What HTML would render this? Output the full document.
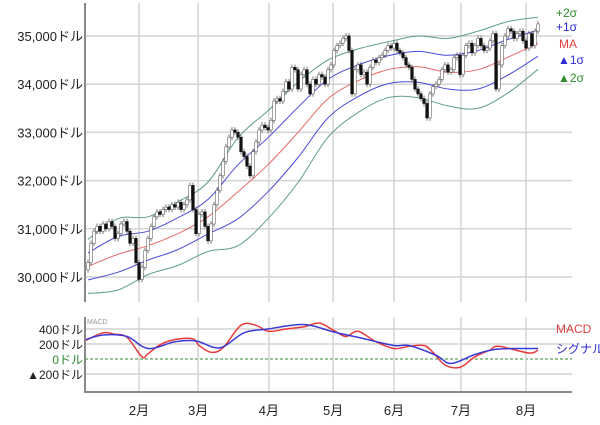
<!DOCTYPE html>
<html><head><meta charset="utf-8">
<style>
html,body{margin:0;padding:0;background:#fff;}
svg{display:block;font-family:"Liberation Sans","Noto Sans CJK JP",sans-serif;}
</style></head>
<body>
<svg id="chart" width="600" height="425" viewBox="0 0 600 425" xmlns="http://www.w3.org/2000/svg">
<g id="grid"></g>
<g id="bands"></g>
<g id="candles"></g>
<g id="macd"></g>
<g id="labels"></g>
<g font-size="12">
<text x="556" y="17" fill="#2e8b2e">+2σ</text>
<text x="556" y="31" fill="#2b2bd0">+1σ</text>
<text x="559" y="48" fill="#e04040">MA</text>
<text x="558" y="64" fill="#2b2bd0">▲1σ</text>
<text x="558" y="82" fill="#2e8b2e">▲2σ</text>
<text x="556" y="333" fill="#e04040">MACD</text>
<text x="556" y="353" fill="#2b2bd0">シグナル</text>
<text x="87" y="324" font-size="7" fill="#999">MACD</text>
</g>
</svg>
<script>
const closes=[30300,30700,30950,31050,30950,31100,31000,31150,31050,30800,
30900,31100,31150,30950,30700,30800,30300,29950,30200,30550,
30800,31050,31250,31350,31300,31400,31450,31400,31500,31450,
31550,31400,31500,31600,31900,31400,30900,31300,31350,31050,
30750,31100,31500,31800,32100,32400,32700,32900,33050,33000,
32900,32600,32500,32300,32100,32600,32800,33050,33150,33100,
33050,33250,33650,33700,33650,33850,34050,33900,34350,34300,
33900,34200,34300,34000,33800,34100,34000,34200,34150,34000,
34300,34400,34700,34800,34850,34950,35000,34700,33800,34300,
34400,34200,34250,34000,34350,34500,34450,34550,34600,34700,
34800,34750,34850,34700,34650,34550,34400,34350,34100,33900,
33800,33700,33600,33300,33800,33950,34000,34100,34300,34400,
34250,34300,34550,34600,34200,34600,34800,34850,34650,34800,
34950,34800,34700,34750,34900,35050,33900,34400,34800,35000,
35150,35100,34950,35050,35100,34900,34750,35050,34800,35100,35250];
const bandDay=[0,10,20,30,40,50,60,70,80,90,100,110,120,130,140,150];
const maVals=[30220,30470,30650,30900,31250,31770,32330,33000,33700,34070,34300,34360,34250,34300,34560,34850];
const sdVals=[280,370,300,330,360,560,560,520,400,330,290,320,350,400,370,270];
const macdDay=[-1,5,9,13,18,20,24,29,35,37,41,45,51,56,60,66,72,77,82,86,90,96,102,107,112,115,119,124,129,134,137,147,150];
const macdVals=[250,350,330,290,30,70,190,260,270,180,90,150,450,450,370,400,430,480,380,300,370,230,140,170,180,90,-80,-110,30,120,170,80,120];
const sigDay=[-1,5,13,20,29,36,44,52,60,72,82,91,102,107,116,121,129,136,144,150];
const sigVals=[260,320,300,140,230,240,150,350,400,460,360,280,180,180,50,-60,60,130,140,140];
const yTicks=[30000,31000,32000,33000,34000,35000];
const macdTicks=[400,200,0,-200];
const months=["2月","3月","4月","5月","6月","7月","8月"];
const monthDay=[17,36.7,60.3,81.7,102,124.3,146];

const NS="http://www.w3.org/2000/svg";
const L=85,R=572;
const xDay=d=>88+d*3;
const yP=p=>36+(35000-p)*48.2/1000;
const yM=v=>359-v*15/200;
function mk(tag,attrs,parent){const e=document.createElementNS(NS,tag);for(const k in attrs)e.setAttribute(k,attrs[k]);parent.appendChild(e);return e;}
function smooth(pts){
  let d=`M${pts[0][0]},${pts[0][1]}`;
  for(let i=0;i<pts.length-1;i++){
    const p0=pts[Math.max(i-1,0)],p1=pts[i],p2=pts[i+1],p3=pts[Math.min(i+2,pts.length-1)];
    const c1x=p1[0]+(p2[0]-p0[0])/6,c1y=p1[1]+(p2[1]-p0[1])/6;
    const c2x=p2[0]-(p3[0]-p1[0])/6,c2y=p2[1]-(p3[1]-p1[1])/6;
    d+=` C${c1x.toFixed(1)},${c1y.toFixed(1)} ${c2x.toFixed(1)},${c2y.toFixed(1)} ${p2[0].toFixed(1)},${p2[1].toFixed(1)}`;
  }
  return d;
}
const grid=document.getElementById('grid'),bands=document.getElementById('bands'),cg=document.getElementById('candles'),mg=document.getElementById('macd'),lg=document.getElementById('labels');

yTicks.forEach(t=>{
  const ln=mk('line',{x1:L,x2:R,y1:yP(t),y2:yP(t),stroke:'#d4d4d4','stroke-width':1.5},grid);
  
  
  const tx=mk('text',{x:83,y:yP(t)+5,'text-anchor':'end','font-size':13,fill:'#222'},lg);
  tx.textContent=t.toLocaleString('en-US')+'ドル';
  
  
});
macdTicks.forEach(t=>{
  const ln=mk('line',{x1:L,x2:R,y1:yM(t),y2:yM(t),stroke:t===0?'#2e8b2e':'#d4d4d4','stroke-width':t===0?1:1.5,'stroke-dasharray':t===0?'3,2':'none'},grid);
  
  
  const tx=mk('text',{x:83,y:yM(t)+5,'text-anchor':'end','font-size':12,fill:t===0?'#2e8b2e':'#222'},lg);
  tx.textContent=(t<0?'▲'+(-t):t)+'ドル';
  
  
});
months.forEach((m,i)=>{
  const x=xDay(monthDay[i]);
  const a=mk('line',{x1:x,x2:x,y1:3,y2:302,stroke:'#d4d4d4','stroke-width':1.5},grid);
  
  
  const b=mk('line',{x1:x,x2:x,y1:317,y2:392,stroke:'#d4d4d4','stroke-width':1.5},grid);
  
  
  const tx=mk('text',{x:x,y:415,'text-anchor':'middle','font-size':13,fill:'#222'},lg);
  tx.textContent=m;
  
  
});
const ax1=mk('line',{x1:L,x2:L,y1:3,y2:302,stroke:'#888','stroke-width':2},grid);


const ax2=mk('path',{d:`M${L},317V392H${R}`,stroke:'#888','stroke-width':2,fill:'none'},grid);



const bandDefs=[[2,'#5f9f80','band-plus2sigma'],[1,'#4b4bd8','band-plus1sigma'],[0,'#e86a6a','band-ma'],[-1,'#4b4bd8','band-minus1sigma'],[-2,'#5f9f80','band-minus2sigma']];
bandDefs.forEach(([k,c,n])=>{
  const pts=bandDay.map((d,i)=>[xDay(d),yP(maVals[i]+k*sdVals[i])]);
  const p=mk('path',{d:smooth(pts),fill:'none',stroke:c,'stroke-width':1},bands);
  
  
});

closes.forEach((c,i)=>{
  const o=i===0?30150:closes[i-1];
  const x=xDay(i);
  const hi=Math.max(o,c)+60,lo=Math.min(o,c)-60;
  const w=mk('line',{x1:x,x2:x,y1:yP(hi),y2:yP(lo),stroke:'#555','stroke-width':0.8},cg);
  
  
  const top=yP(Math.max(o,c)),bot=yP(Math.min(o,c));
  const r=mk('rect',{x:x-1.3,y:top,width:2.6,height:Math.max(bot-top,1),fill:c>=o?'#fff':'#111',stroke:c>=o?'#666':'#111','stroke-width':0.6},cg);
  
  
});

const mp=mk('path',{d:smooth(macdDay.map((d,i)=>[Math.max(xDay(d),86),yM(macdVals[i])])),fill:'none',stroke:'#e83a3a','stroke-width':1.5},mg);


const sp=mk('path',{d:smooth(sigDay.map((d,i)=>[Math.max(xDay(d),86),yM(sigVals[i])])),fill:'none',stroke:'#3a3ad8','stroke-width':1.5},mg);


</script>
</body></html>
